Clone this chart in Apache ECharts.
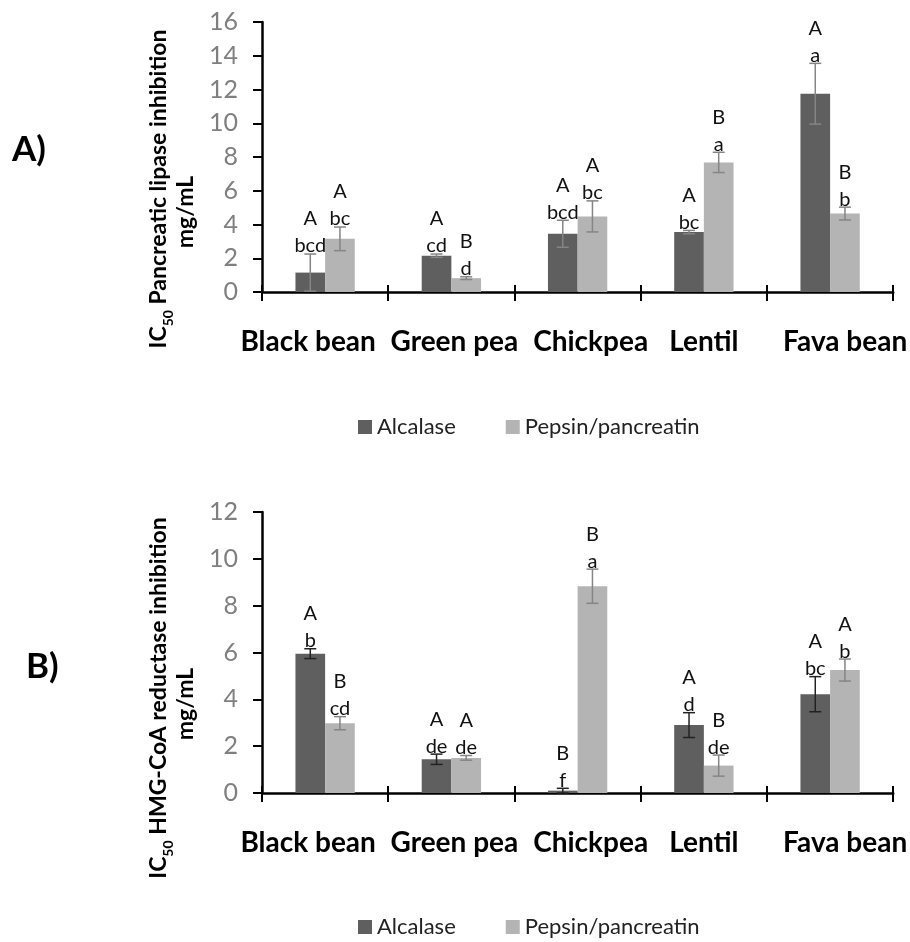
<!DOCTYPE html>
<html><head><meta charset="utf-8">
<script src="https://cdn.jsdelivr.net/npm/echarts@6/dist/echarts.min.js"></script>
<style>html,body{margin:0;padding:0;background:#fff}#c{width:910px;height:942px}</style>
</head><body><div id="c"></div>
<script>
const categories = ['Black bean', 'Green pea', 'Chickpea', 'Lentil', 'Fava bean'];
const seriesNames = ['Alcalase', 'Pepsin/pancreatin'];
const yTicksA = [0, 2, 4, 6, 8, 10, 12, 14, 16];
const yTicksB = [0, 2, 4, 6, 8, 10, 12];

// Panel A: IC50 pancreatic lipase inhibition (mg/mL)
const lipaseAlcalase = [1.15, 2.15, 3.45, 3.55, 11.75];
const lipaseAlcalaseErr = [1.1, 0.1, 0.8, 0.1, 1.8];
const lipasePepsin = [3.15, 0.82, 4.48, 7.68, 4.65];
const lipasePepsinErr = [0.7, 0.08, 0.92, 0.6, 0.38];
const lipaseAlcalaseUpper = ['A', 'A', 'A', 'A', 'A'];
const lipaseAlcalaseLower = ['bcd', 'cd', 'bcd', 'bc', 'a'];
const lipasePepsinUpper = ['A', 'B', 'A', 'B', 'B'];
const lipasePepsinLower = ['bc', 'd', 'bc', 'a', 'b'];

// Panel B: IC50 HMG-CoA reductase inhibition (mg/mL)
const hmgAlcalase = [5.95, 1.44, 0.1, 2.9, 4.22];
const hmgAlcalaseErr = [0.21, 0.22, 0.1, 0.53, 0.75];
const hmgPepsin = [2.98, 1.5, 8.83, 1.17, 5.25];
const hmgPepsinErr = [0.28, 0.1, 0.73, 0.45, 0.47];
const hmgAlcalaseUpper = ['A', 'A', 'B', 'A', 'A'];
const hmgAlcalaseLower = ['b', 'de', 'f', 'd', 'bc'];
const hmgPepsinUpper = ['B', 'A', 'B', 'B', 'A'];
const hmgPepsinLower = ['cd', 'de', 'a', 'de', 'b'];

// styling: horizontal nudge (px) of each category label, as in the original figure
const labelNudge = [-17, 3, 13, 0, 15];

const FONT = 'Lato, "Open Sans", sans-serif';
const DARK = '#5f5f5f';
const LIGHT = '#b4b4b4';
const GAP = 0.53;

function errSeries(xIdx, yIdx, vals, errs, upper, lower, side, color) {
  return {
    type: 'custom', name: 'err' + xIdx + side, xAxisIndex: xIdx, yAxisIndex: yIdx, z: 5,
    data: vals.map((v, i) => [i, v, errs[i]]),
    encode: { x: 0, y: 1 },
    renderItem: function (params, api) {
      const i = api.value(0), v = api.value(1), e = api.value(2);
      const band = api.size([1, 0])[0];
      const bw = band * (1 - GAP) / 2;
      const cx = api.coord([i, 0])[0] + side * bw / 2;
      const yTop = api.coord([i, v + e])[1];
      const yBot = api.coord([i, Math.max(v - e, 0)])[1];
      const cap = 6;
      const ls = { stroke: color, lineWidth: 1.5 };
      const ts = { fill: '#111', fontSize: 20, fontFamily: FONT, align: 'center', verticalAlign: 'middle' };
      return {
        type: 'group', children: [
          { type: 'line', shape: { x1: cx, y1: yTop, x2: cx, y2: yBot }, style: ls },
          { type: 'line', shape: { x1: cx - cap, y1: yTop, x2: cx + cap, y2: yTop }, style: ls },
          { type: 'line', shape: { x1: cx - cap, y1: yBot, x2: cx + cap, y2: yBot }, style: ls },
          { type: 'text', x: cx, y: yTop - 8, style: Object.assign({ text: lower[params.dataIndex] }, ts) },
          { type: 'text', x: cx, y: yTop - 35, style: Object.assign({ text: upper[params.dataIndex] }, ts) }
        ]
      };
    }
  };
}

const labelRich = {};
labelNudge.forEach((n, i) => {
  labelRich['l' + i] = { padding: n < 0 ? [0, -2 * n, 0, 0] : [0, 0, 0, 2 * n] };
});

function xAxes(gridIndex) {
  return [
    {
      type: 'category', data: categories, gridIndex: gridIndex,
      axisLine: { lineStyle: { color: '#000', width: 2.5 } },
      axisTick: { show: true, length: 9, lineStyle: { color: '#000', width: 2 } },
      axisLabel: {
        color: '#000', fontWeight: 'bold', fontSize: 28, fontFamily: FONT, margin: 36, interval: 0,
        formatter: (val, idx) => '{l' + idx + '|' + val + '}',
        rich: labelRich
      }
    },
    {
      type: 'category', data: categories, gridIndex: gridIndex, position: 'bottom',
      axisLine: { show: false },
      axisTick: { show: true, inside: true, length: 7, lineStyle: { color: '#000', width: 2 } },
      axisLabel: { show: false }
    }
  ];
}
function yAxis(gridIndex, ticks) {
  return {
    type: 'value', gridIndex: gridIndex, min: ticks[0], max: ticks[ticks.length - 1], interval: ticks[1] - ticks[0],
    axisLine: { show: true, lineStyle: { color: '#000', width: 2.5 } },
    axisTick: { show: true, length: 9, lineStyle: { color: '#000', width: 2 } },
    splitLine: { show: false },
    axisLabel: { color: '#7f7f7f', fontSize: 25, fontFamily: FONT, margin: 24 }
  };
}
function bar(name, xIdx, yIdx, data, color) {
  return {
    type: 'bar', name: name, xAxisIndex: xIdx, yAxisIndex: yIdx, data: data,
    barGap: '0%', barCategoryGap: (GAP * 100) + '%', itemStyle: { color: color }, z: 2
  };
}
function legend(top) {
  return {
    left: 353, top: top, itemWidth: 14, itemHeight: 14, itemGap: 50, icon: 'rect',
    data: seriesNames, textStyle: { fontSize: 22, fontFamily: FONT, color: '#222' }
  };
}
function ytitle(x, y, main, fs) {
  return {
    type: 'text', x: x, y: y, rotation: Math.PI / 2,
    style: {
      text: '{a|IC}{s|50}{a| ' + main + '}', align: 'center', verticalAlign: 'middle',
      rich: {
        a: { fontSize: fs, fontWeight: 'bold', fontFamily: FONT, fill: '#000', lineHeight: 32 },
        s: { fontSize: 14, fontWeight: 'bold', fontFamily: FONT, fill: '#000', lineHeight: 32, verticalAlign: 'bottom' }
      }
    }
  };
}
function unit(x, y) {
  return { type: 'text', x: x, y: y, rotation: Math.PI / 2, style: { text: 'mg/mL', fontSize: 23, fontWeight: 'bold', fontFamily: FONT, fill: '#000', align: 'center', verticalAlign: 'middle' } };
}

const chart = echarts.init(document.getElementById('c'));
chart.setOption({
  backgroundColor: '#fff',
  animation: false,
  grid: [
    { left: 262, right: 15, top: 22, bottom: 650 },
    { left: 262, right: 15, top: 512, bottom: 149 }
  ],
  xAxis: xAxes(0).concat(xAxes(1)),
  yAxis: [yAxis(0, yTicksA), yAxis(1, yTicksB)],
  legend: [legend(411), legend(911)],
  graphic: [
    { type: 'text', x: 12, y: 150, style: { text: 'A)', fontSize: 35, fontWeight: 'bold', fontFamily: FONT, fill: '#000', verticalAlign: 'middle' } },
    { type: 'text', x: 26, y: 667, style: { text: 'B)', fontSize: 35, fontWeight: 'bold', fontFamily: FONT, fill: '#000', verticalAlign: 'middle' } },
    ytitle(159, 189, 'Pancreatic lipase inhibition', 23),
    unit(186, 212),
    ytitle(159, 698, 'HMG-CoA reductase inhibition', 23),
    unit(186, 704)
  ],
  series: [
    bar('Alcalase', 0, 0, lipaseAlcalase, DARK),
    bar('Pepsin/pancreatin', 0, 0, lipasePepsin, LIGHT),
    bar('Alcalase', 2, 1, hmgAlcalase, DARK),
    bar('Pepsin/pancreatin', 2, 1, hmgPepsin, LIGHT),
    errSeries(0, 0, lipaseAlcalase, lipaseAlcalaseErr, lipaseAlcalaseUpper, lipaseAlcalaseLower, -1, '#858585'),
    errSeries(0, 0, lipasePepsin, lipasePepsinErr, lipasePepsinUpper, lipasePepsinLower, 1, '#858585'),
    errSeries(2, 1, hmgAlcalase, hmgAlcalaseErr, hmgAlcalaseUpper, hmgAlcalaseLower, -1, '#222'),
    errSeries(2, 1, hmgPepsin, hmgPepsinErr, hmgPepsinUpper, hmgPepsinLower, 1, '#858585')
  ]
});
</script></body></html>
